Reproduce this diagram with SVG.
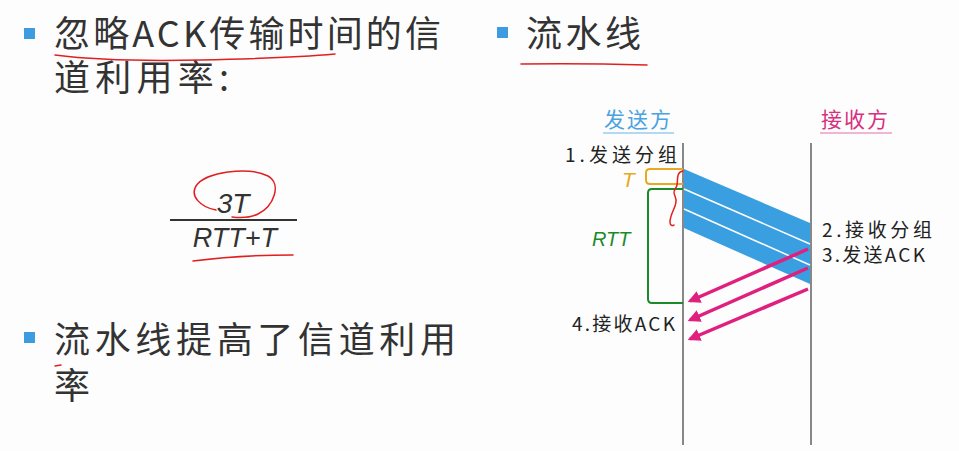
<svg xmlns="http://www.w3.org/2000/svg" width="959" height="451" viewBox="0 0 959 451">
<defs>
<style>
.cjk{font-family:"Noto Sans CJK SC","Noto Sans",sans-serif;fill:#333}
.big{font-size:36px;letter-spacing:3px}
.lbl{font-size:19px;fill:#222}
.bul{fill:#3d9be0}
.red{fill:none;stroke:#e02020;stroke-width:1.5;stroke-linecap:round}
.life{stroke:#888;stroke-width:2}
.ack{stroke:#e0207f;stroke-width:3.5;marker-end:url(#ah)}
.it{font-family:"Liberation Sans",Arial,sans-serif;font-style:italic}
</style>
<marker id="ah" viewBox="0 0 10 10" refX="8" refY="5" markerWidth="3.6" markerHeight="3.6" orient="auto">
<path d="M0,0 L10,5 L0,10 Z" fill="#e0207f"/>
</marker>
</defs>
<rect width="959" height="451" fill="#fdfdfd"/>

<g id="bullet1">
<rect class="bul" x="24" y="28" width="11" height="11"/>
<text class="cjk big" x="54" y="47" textLength="390" lengthAdjust="spacing">忽略ACK传输时间的信</text>
<text class="cjk big" x="54" y="91" textLength="178" lengthAdjust="spacing">道利用率:</text>
<path class="red" d="M55,55 Q110,62 200,60 T335,54"/>
</g>

<g id="formula">
<text class="it" x="233" y="213" font-size="28" fill="#333" text-anchor="middle">3T</text>
<line x1="170" y1="220" x2="297" y2="220" stroke="#333" stroke-width="2"/>
<text class="it" x="235" y="247" font-size="27" fill="#333" text-anchor="middle">RTT+T</text>
<path class="red" d="M216,210 C200,207 190,196 196,186 C205,172 248,166 268,176 C282,184 274,206 258,214 C250,218 240,218 232,217"/>
<path class="red" d="M193,261 Q240,255 293,255"/>
</g>

<g id="bullet3">
<rect class="bul" x="24" y="332" width="11" height="11"/>
<text class="cjk big" x="54" y="353" textLength="405" lengthAdjust="spacing">流水线提高了信道利用</text>
<text class="cjk big" x="54" y="399">率</text>
<path class="red" d="M55,366 L61,365" stroke-width="1.2"/>
</g>

<g id="bullet2">
<rect class="bul" x="497" y="27" width="11" height="11"/>
<text class="cjk big" x="526" y="47" textLength="118" lengthAdjust="spacing">流水线</text>
<path class="red" d="M521,64 Q580,63 647,65"/>
</g>

<g id="sender">
<text class="cjk" x="604" y="127" font-size="21" style="fill:#4aa3e0" letter-spacing="2">发送方</text>
<line x1="603" y1="133" x2="674" y2="133" stroke="#6bb3e6" stroke-width="1"/>
<line class="life" x1="683" y1="143" x2="683" y2="445"/>
</g>

<g id="receiver">
<text class="cjk" x="821" y="127" font-size="21" style="fill:#d8307f" letter-spacing="2">接收方</text>
<line x1="820" y1="133" x2="892" y2="133" stroke="#e070a8" stroke-width="1"/>
<line class="life" x1="811" y1="143" x2="811" y2="445"/>
</g>

<g id="labels">
<text class="cjk lbl" x="565" y="162" textLength="112" lengthAdjust="spacing">1.发送分组</text>
<text class="cjk lbl" x="822" y="237" textLength="110" lengthAdjust="spacing">2.接收分组</text>
<text class="cjk lbl" x="822" y="262" textLength="103" lengthAdjust="spacing">3.发送ACK</text>
<text class="cjk lbl" x="572" y="331" textLength="103" lengthAdjust="spacing">4.接收ACK</text>
</g>

<g id="brackets">
<path d="M683,169 L650,169 Q646,169 646,173 L646,180 Q646,184 650,184 L683,184" fill="none" stroke="#e8a820" stroke-width="2"/>
<text class="it" x="622" y="187" font-size="21" fill="#e8a820">T</text>
<path d="M683,189 L652,189 Q648,189 648,193 L648,299 Q648,303 652,303 L683,303" fill="none" stroke="#1a8a2a" stroke-width="2"/>
<text class="it" x="592" y="246" font-size="20" fill="#1a8a2a">RTT</text>
<path class="red" d="M683,171 C676,172 678,180 677,185 C676,190 672,190 675,196 C679,205 670,212 670,222 C670,226 673,226 674,225" stroke-width="1.3"/>
</g>

<g id="connectors">
<polygon points="684,169 810,223 810,284 684,228" fill="#3a9fe0"/>
<line x1="684" y1="189" x2="810" y2="244" stroke="#fff" stroke-width="1.5"/>
<line x1="684" y1="209" x2="810" y2="265" stroke="#fff" stroke-width="1.5"/>
<line class="ack" x1="808" y1="249" x2="690" y2="301"/>
<line class="ack" x1="808" y1="268" x2="690" y2="320"/>
<line class="ack" x1="808" y1="289" x2="690" y2="339"/>
</g>
</svg>
